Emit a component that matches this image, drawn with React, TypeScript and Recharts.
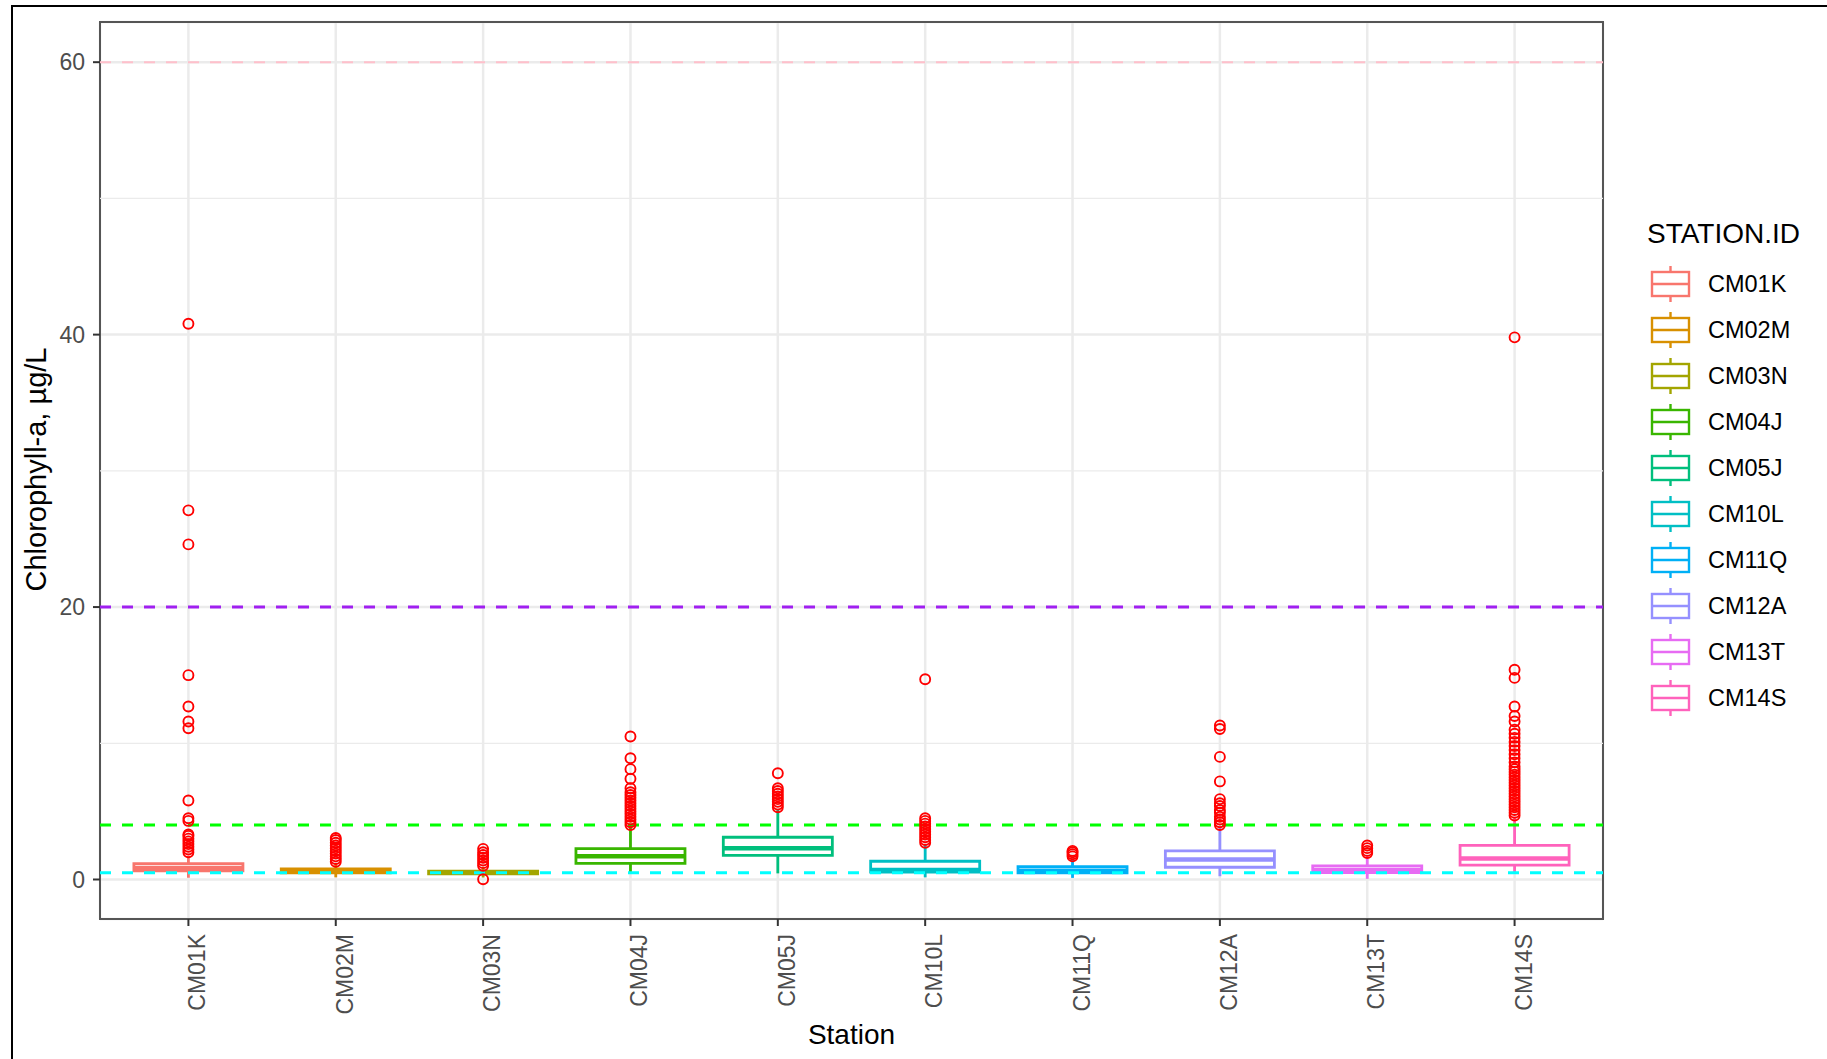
import React from 'react';
import {
  ComposedChart,
  XAxis,
  YAxis,
  CartesianGrid,
  ReferenceLine,
  ReferenceArea,
  Scatter,
} from 'recharts';

const FONT = '"Liberation Sans", Arial, Helvetica, sans-serif';

// ---------- data ----------
const stations = ['CM01K', 'CM02M', 'CM03N', 'CM04J', 'CM05J', 'CM10L', 'CM11Q', 'CM12A', 'CM13T', 'CM14S'];
const stationColors = ['#F8766D', '#D89000', '#A3A500', '#39B600', '#00BF7D', '#00BFC4', '#00B0F6', '#9590FF', '#E76BF3', '#FF62BC'];

const whiskerLow = [0.13, 0.16, 0.15, 0.45, 0.45, 0.16, 0.12, 0.24, 0.05, 0.49];
const q1 = [0.63, 0.48, 0.42, 1.18, 1.77, 0.55, 0.48, 0.9, 0.5, 1.05];
const median = [0.85, 0.6, 0.5, 1.7, 2.29, 0.7, 0.65, 1.46, 0.7, 1.54];
const q3 = [1.17, 0.77, 0.62, 2.27, 3.1, 1.34, 0.94, 2.1, 1.0, 2.5];
const whiskerHigh = [1.7, 1.2, 0.92, 3.93, 5.1, 2.55, 1.55, 3.9, 1.8, 4.6];

const outliersCM01K = [2.0, 2.2, 2.4, 2.6, 2.8, 3.0, 3.2, 3.3, 4.3, 4.5, 5.8, 11.1, 11.6, 12.7, 15.0, 24.6, 27.1, 40.8];
const outliersCM02M = [1.3, 1.5, 1.7, 1.9, 2.1, 2.3, 2.5, 2.7, 2.9, 3.05];
const outliersCM03N = [0.02, 1.0, 1.2, 1.4, 1.6, 1.8, 2.0, 2.25];
const outliersCM04J = [4.0, 4.2, 4.4, 4.6, 4.8, 5.0, 5.2, 5.4, 5.6, 5.8, 6.0, 6.2, 6.4, 6.7, 7.4, 8.1, 8.9, 10.5];
const outliersCM05J = [5.3, 5.5, 5.7, 5.9, 6.1, 6.3, 6.5, 6.7, 7.8];
const outliersCM10L = [2.7, 2.9, 3.1, 3.3, 3.5, 3.7, 3.9, 4.1, 4.3, 4.5, 14.7];
const outliersCM11Q = [1.7, 1.85, 2.0, 2.1];
const outliersCM12A = [4.0, 4.2, 4.4, 4.6, 4.9, 5.1, 5.4, 5.6, 5.9, 7.2, 9.0, 11.05, 11.3];
const outliersCM13T = [1.95, 2.1, 2.3, 2.5];
const outliersCM14S = [4.7, 4.9, 5.1, 5.3, 5.5, 5.7, 5.9, 6.1, 6.3, 6.5, 6.7, 6.9, 7.1, 7.3, 7.5, 7.7, 7.9, 8.1, 8.3, 8.6, 8.9, 9.2, 9.5, 9.8, 10.1, 10.4, 10.7, 11.0, 11.6, 12.0, 12.7, 14.8, 15.4, 39.8];

const outliers = [
  outliersCM01K, outliersCM02M, outliersCM03N, outliersCM04J, outliersCM05J,
  outliersCM10L, outliersCM11Q, outliersCM12A, outliersCM13T, outliersCM14S,
];

const yTicks = [0, 20, 40, 60];
const yMinorTicks = [10, 30, 50];

const thresholdValues = [60, 20, 4, 0.5];
const thresholdColors = ['#FFC0CB', '#A020F0', '#00FF00', '#00FFFF'];

// ---------- derived ----------
const xPositions = stations.map((_, i) => i + 1);
const outlierData = stations.flatMap((s, i) => outliers[i].map((v) => ({ x: i + 1, y: v, station: s })));

const X_DOMAIN: [number, number] = [0.4, 10.6];
const Y_DOMAIN: [number, number] = [-2.9, 62.95];
const HALF_BOX = 0.37;
const BOX_LW = 2.8;

const XTick = (props: any) => {
  const { x, y, payload } = props;
  const ax = x + 17;
  const ay = y + 8;
  return (
    <text
      x={ax}
      y={ay}
      transform={`rotate(-90, ${ax}, ${ay})`}
      textAnchor="end"
      fontSize={23}
      fill="#4D4D4D"
      fontFamily={FONT}
    >
      {stations[Math.round(payload.value) - 1]}
    </text>
  );
};

const YTitle = (props: any) => {
  const vb = props.viewBox || { x: 0, y: 22, width: 100, height: 897 };
  const x = 46;
  const y = vb.y + vb.height / 2 - 1;
  return (
    <text x={x} y={y} transform={`rotate(-90, ${x}, ${y})`} textAnchor="middle" fontSize={29} fill="#000" fontFamily={FONT}>
      Chlorophyll-a, µg/L
    </text>
  );
};

const XTitle = (props: any) => {
  const vb = props.viewBox || { x: 100, y: 919, width: 1503, height: 140 };
  return (
    <text x={vb.x + vb.width / 2} y={vb.y + 125} textAnchor="middle" fontSize={28} fill="#000" fontFamily={FONT}>
      Station
    </text>
  );
};

const OutlierShape = (props: any) => {
  const { cx, cy } = props;
  if (cx == null || cy == null) return null;
  return <circle cx={cx} cy={cy} r={5} fill="none" stroke="#FF0000" strokeWidth={1.9} />;
};

const LegendBox = () => {
  const top = 200;
  const left = 1640;
  return (
    <svg
      width={187}
      height={540}
      style={{ position: 'absolute', left, top, pointerEvents: 'none' }}
    >
      <text x={7} y={43} fontSize={28} fill="#000" fontFamily={FONT}>
        STATION.ID
      </text>
      {stations.map((s, i) => {
        const cy = 84 + i * 46;
        const c = stationColors[i];
        return (
          <g key={s}>
            <line x1={30.5} x2={30.5} y1={cy - 18} y2={cy + 18} stroke={c} strokeWidth={2.4} />
            <rect x={12} y={cy - 12} width={37} height={24} fill="#fff" stroke={c} strokeWidth={2.4} />
            <line x1={12} x2={49} y1={cy} y2={cy} stroke={c} strokeWidth={2.4} />
            <text x={68} y={cy + 8.3} fontSize={23.5} fill="#000" fontFamily={FONT}>
              {s}
            </text>
          </g>
        );
      })}
    </svg>
  );
};

export default function App() {
  return (
    <div style={{ position: 'absolute', left: 0, top: 0, width: 1827, height: 1059, background: '#fff' }}>
      <div
        style={{
          position: 'absolute',
          left: 11,
          top: 5,
          width: 1816,
          height: 1054,
          borderLeft: '2px solid #000',
          borderTop: '2px solid #000',
          boxSizing: 'border-box',
          pointerEvents: 'none',
        }}
      />
      <div style={{ position: 'absolute', left: 0, top: 0 }}>
        <ComposedChart width={1827} height={1059} margin={{ top: 22, right: 224, bottom: 0, left: 0 }}>
          <CartesianGrid stroke="#EBEBEB" strokeWidth={2.5} fill="none" />
          {yMinorTicks.map((v) => (
            <ReferenceLine key={`minor-${v}`} y={v} stroke="#EBEBEB" strokeWidth={1.3} />
          ))}
          <XAxis
            type="number"
            dataKey="x"
            domain={X_DOMAIN}
            allowDataOverflow
            ticks={xPositions}
            interval={0}
            height={140}
            axisLine={false}
            tickLine={{ stroke: '#333333', strokeWidth: 2 }}
            tickSize={7}
            tickMargin={0}
            tick={<XTick />}
            label={<XTitle />}
          />
          <YAxis
            type="number"
            dataKey="y"
            domain={Y_DOMAIN}
            allowDataOverflow
            ticks={yTicks}
            interval={0}
            width={100}
            axisLine={false}
            tickLine={{ stroke: '#333333', strokeWidth: 2 }}
            tickSize={7}
            tickMargin={8}
            tick={{ fill: '#4D4D4D', fontSize: 23, fontFamily: FONT }}
            label={<YTitle />}
          />
          {stations.map((s, i) => (
            <ReferenceLine
              key={`wl-${s}`}
              segment={[{ x: i + 1, y: whiskerLow[i] }, { x: i + 1, y: q1[i] }]}
              stroke={stationColors[i]}
              strokeWidth={BOX_LW}
            />
          ))}
          {stations.map((s, i) => (
            <ReferenceLine
              key={`wh-${s}`}
              segment={[{ x: i + 1, y: q3[i] }, { x: i + 1, y: whiskerHigh[i] }]}
              stroke={stationColors[i]}
              strokeWidth={BOX_LW}
            />
          ))}
          {stations.map((s, i) => (
            <ReferenceArea
              key={`box-${s}`}
              x1={i + 1 - HALF_BOX}
              x2={i + 1 + HALF_BOX}
              y1={q1[i]}
              y2={q3[i]}
              fill="#ffffff"
              fillOpacity={1}
              stroke={stationColors[i]}
              strokeWidth={BOX_LW}
              strokeOpacity={1}
            />
          ))}
          {stations.map((s, i) => (
            <ReferenceLine
              key={`med-${s}`}
              segment={[{ x: i + 1 - HALF_BOX, y: median[i] }, { x: i + 1 + HALF_BOX, y: median[i] }]}
              stroke={stationColors[i]}
              strokeWidth={4.5}
            />
          ))}
          <Scatter data={outlierData} shape={<OutlierShape />} isAnimationActive={false} />
          <ReferenceLine y={thresholdValues[0]} stroke={thresholdColors[0]} strokeWidth={2} strokeDasharray="11 11" />
          <ReferenceLine y={thresholdValues[1]} stroke={thresholdColors[1]} strokeWidth={3} strokeDasharray="11 11" />
          <ReferenceLine y={thresholdValues[2]} stroke={thresholdColors[2]} strokeWidth={3} strokeDasharray="11 11" />
          <ReferenceLine y={thresholdValues[3]} stroke={thresholdColors[3]} strokeWidth={3} strokeDasharray="11 11" />
          <ReferenceArea
            x1={X_DOMAIN[0]}
            x2={X_DOMAIN[1]}
            y1={Y_DOMAIN[0]}
            y2={Y_DOMAIN[1]}
            fill="none"
            stroke="#555555"
            strokeWidth={2}
            ifOverflow="visible"
          />
        </ComposedChart>
      </div>
      <LegendBox />
    </div>
  );
}
